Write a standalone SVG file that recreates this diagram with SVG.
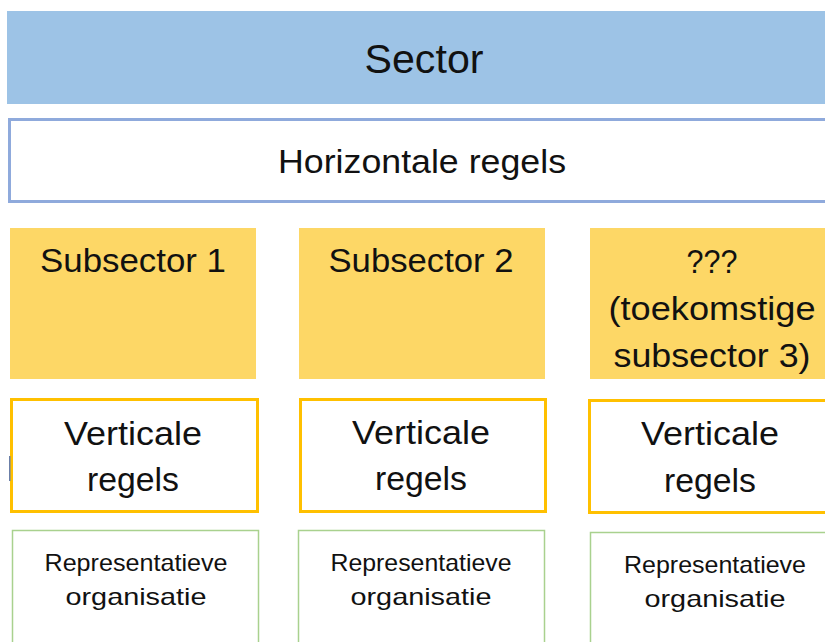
<svg xmlns="http://www.w3.org/2000/svg" width="825" height="642" viewBox="0 0 825 642">
  <style>
    text { font-family: "Liberation Sans", Arial, sans-serif; fill: #111; text-anchor: middle; }
    .sector { fill: #9DC3E6; }
    .horiz { fill: #fff; stroke: #8FAADC; stroke-width: 3; }
    .sub { fill: #FDD766; }
    .vert { fill: #fff; stroke: #FFC000; stroke-width: 3; }
    .rep { fill: #fff; stroke: #A9D18E; stroke-width: 1.5; }
    .big { font-size: 41px; }
    .mid { font-size: 33px; }
    .small { font-size: 24px; }
  </style>
  <rect width="825" height="642" fill="#fff"/>

  <g id="sector">
    <rect class="sector" x="7" y="11" width="830" height="93"/>
    <text class="big" x="424" y="73" textLength="119" lengthAdjust="spacingAndGlyphs">Sector</text>
  </g>

  <g id="horizontale-regels">
    <rect class="horiz" x="9.5" y="119.5" width="830" height="82"/>
    <text class="mid" x="422" y="173" textLength="288" lengthAdjust="spacingAndGlyphs">Horizontale regels</text>
  </g>

  <g id="subsector-1">
    <rect class="sub" x="10" y="228" width="246" height="151"/>
    <text class="mid" x="133" y="272" textLength="186" lengthAdjust="spacingAndGlyphs">Subsector 1</text>
  </g>
  <g id="subsector-2">
    <rect class="sub" x="299" y="228" width="246" height="151"/>
    <text class="mid" x="421" y="272" textLength="185" lengthAdjust="spacingAndGlyphs">Subsector 2</text>
  </g>
  <g id="subsector-3">
    <rect class="sub" x="590" y="228" width="250" height="151"/>
    <text class="mid" x="712" y="273" textLength="51" lengthAdjust="spacingAndGlyphs">???</text>
    <text class="mid" x="712" y="320" textLength="207" lengthAdjust="spacingAndGlyphs">(toekomstige</text>
    <text class="mid" x="712" y="367" textLength="197" lengthAdjust="spacingAndGlyphs">subsector 3)</text>
  </g>

  <g id="verticale-regels-1">
    <rect class="vert" x="11.5" y="399.5" width="246" height="112"/>
    <rect x="9" y="456" width="1.5" height="25" fill="#6B7FA8"/>
    <text class="mid" x="133" y="445" textLength="138" lengthAdjust="spacingAndGlyphs">Verticale</text>
    <text class="mid" x="133" y="491" textLength="92" lengthAdjust="spacingAndGlyphs">regels</text>
  </g>
  <g id="verticale-regels-2">
    <rect class="vert" x="300.5" y="399.5" width="245" height="112"/>
    <text class="mid" x="421" y="444" textLength="138" lengthAdjust="spacingAndGlyphs">Verticale</text>
    <text class="mid" x="421" y="490" textLength="92" lengthAdjust="spacingAndGlyphs">regels</text>
  </g>
  <g id="verticale-regels-3">
    <rect class="vert" x="589.5" y="400.5" width="250" height="112"/>
    <text class="mid" x="710" y="445" textLength="138" lengthAdjust="spacingAndGlyphs">Verticale</text>
    <text class="mid" x="710" y="492" textLength="92" lengthAdjust="spacingAndGlyphs">regels</text>
  </g>

  <g id="representatieve-organisatie-1">
    <rect class="rep" x="12.5" y="530.5" width="246" height="120"/>
    <text class="small" x="136" y="571" textLength="183" lengthAdjust="spacingAndGlyphs">Representatieve</text>
    <text class="small" x="136" y="605" textLength="141" lengthAdjust="spacingAndGlyphs">organisatie</text>
  </g>
  <g id="representatieve-organisatie-2">
    <rect class="rep" x="298.5" y="530.5" width="246" height="120"/>
    <text class="small" x="421" y="571" textLength="181" lengthAdjust="spacingAndGlyphs">Representatieve</text>
    <text class="small" x="421" y="605" textLength="141" lengthAdjust="spacingAndGlyphs">organisatie</text>
  </g>
  <g id="representatieve-organisatie-3">
    <rect class="rep" x="590.5" y="532.5" width="250" height="120"/>
    <text class="small" x="715" y="573" textLength="182" lengthAdjust="spacingAndGlyphs">Representatieve</text>
    <text class="small" x="715" y="607" textLength="141" lengthAdjust="spacingAndGlyphs">organisatie</text>
  </g>
</svg>
